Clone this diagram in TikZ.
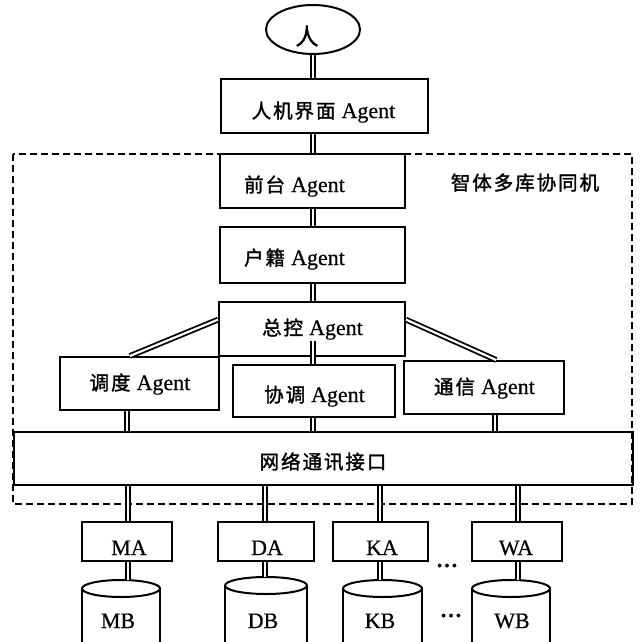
\documentclass[tikz,border=0pt]{standalone}
\usepackage{fontspec}
\setmainfont[FakeBold=0.5]{Liberation Serif}
\newfontfamily\zhfont[LetterSpace=10,FakeBold=1.6]{Noto Sans CJK SC}
\newcommand\zhtxt[1]{{\zhfont\fontsize{19.5}{22}\selectfont #1}}
\usetikzlibrary{shapes.geometric,calc,fit}

% database drum: name, centre x, centre y of the lid, x radius, y radius
\newcommand\drum[5]{%
  \draw[line width=2pt] (#2,#3) ellipse [x radius=#4, y radius=#5];
  \draw[line width=2pt] ($(#2,#3)+(-#4,0)$) -- ($(#2,#3)+(-#4,80)$);
  \draw[line width=2pt] ($(#2,#3)+(#4,0)$) -- ($(#2,#3)+(#4,80)$);
  \coordinate (#1) at ($(#2,#3)+(0,-#5)$);
}

\begin{document}
\begin{tikzpicture}[x=1pt,y=-1pt,
  box/.style={draw,line width=2pt,inner sep=0pt},
  lbl/.style={anchor=base,inner sep=0pt,font=\fontsize{22}{26}\selectfont},
  link/.style={line width=1.8pt,double=white,double distance=2.2pt}]
\useasboundingbox (0,0) rectangle (642,642);
\clip (0,0) rectangle (642,642);

% columns used by the vertical links
\coordinate (spine) at (313,0);
\coordinate (colL) at (127,0);
\coordinate (colR) at (495,0);
\coordinate (m1) at (128,0);
\coordinate (m2) at (265,0);
\coordinate (m3) at (380,0);
\coordinate (m4) at (518,0);

% frame of the multi-database machine
\draw[line width=2pt,dash pattern=on 7pt off 4pt] (13,154) rectangle (632,504);
\node[anchor=base,inner sep=0pt] (machine) at (525,190) {\zhtxt{智体多库协同机}};

% boxes
\node[draw,ellipse,line width=2pt,minimum width=94pt,minimum height=49pt,inner sep=0pt] (person) at (313,29.5) {};
\node[box,fit={(221,79) (428,133)}] (hmi) {};
\node[box,fit={(220,154) (405,208)}] (front) {};
\node[box,fit={(220,227) (405,283)}] (huji) {};
\node[box,fit={(219,302) (405,356)}] (ctrl) {};
\node[box,fit={(60,357) (219,410)}] (sched) {};
\node[box,fit={(233,365) (395,417)}] (coord) {};
\node[box,fit={(404,361) (564,414)}] (comm) {};
\node[box,fit={(14,432) (633,485)}] (net) {};
\node[box,fit={(82,522) (172,561)}] (MA) {};
\node[box,fit={(218,522) (314,561)}] (DA) {};
\node[box,fit={(333,522) (428,561)}] (KA) {};
\node[box,fit={(472,522) (562,561)}] (WA) {};

\drum{MBtop}{121}{588.5}{39}{8.5}
\drum{DBtop}{266}{585.5}{41}{8.5}
\drum{KBtop}{382.5}{588.5}{39.5}{8.5}
\drum{WBtop}{511}{588.5}{39}{8.5}

% links
\draw[link] (person.south) -- (spine |- hmi.north);
\draw[link] (spine |- hmi.south) -- (spine |- front.north);
\draw[link] (spine |- front.south) -- (spine |- huji.north);
\draw[link] (spine |- huji.south) -- (spine |- ctrl.north);
\draw[link] ($(ctrl.north west)!0.333!(ctrl.south west)$) -- ($(sched.north west)!0.44!(sched.north east)$);
\draw[link] ($(ctrl.north east)!0.333!(ctrl.south east)$) -- ($(comm.north west)!0.575!(comm.north east)$);
\draw[link] ($(spine |- ctrl.south)+(0,-16)$) -- (spine |- coord.north);
\draw[link] (colL |- sched.south) -- (colL |- net.north);
\draw[link] (spine |- coord.south) -- (spine |- net.north);
\draw[link] (colR |- comm.south) -- (colR |- net.north);
\draw[link] (m1 |- net.south) -- (m1 |- MA.north);
\draw[link] (m2 |- net.south) -- (m2 |- DA.north);
\draw[link] (m3 |- net.south) -- (m3 |- KA.north);
\draw[link] (m4 |- net.south) -- (m4 |- WA.north);
\draw[link] (m1 |- MA.south) -- (m1 |- MBtop);
\draw[link] (m2 |- DA.south) -- (m2 |- DBtop);
\draw[link] (m3 |- KA.south) -- (m3 |- KBtop);
\draw[link] (m4 |- WA.south) -- (m4 |- WBtop);

% texts
\node[inner sep=0pt] (personT) at (307,36) {{\zhfont\fontsize{23}{24}\selectfont 人}};
\node[lbl] (hmiT) at (323.5,118) {\zhtxt{人机界面}\hspace{6pt}Agent};
\node[lbl] (frontT) at (294.5,192) {\zhtxt{前台}\hspace{6pt}Agent};
\node[lbl] (hujiT) at (294.5,265) {\zhtxt{户籍}\hspace{6pt}Agent};
\node[lbl] (ctrlT) at (312.5,335) {\zhtxt{总控}\hspace{6pt}Agent};
\node[lbl] (schedT) at (140,390) {\zhtxt{调度}\hspace{6pt}Agent};
\node[lbl] (coordT) at (314.5,402) {\zhtxt{协调}\hspace{6pt}Agent};
\node[lbl] (commT) at (484.5,394) {\zhtxt{通信}\hspace{6pt}Agent};
\node[anchor=base,inner sep=0pt] (netT) at (323,469) {\zhtxt{网络通讯接口}};
\node[lbl] (MAT) at (129,555) {MA};
\node[lbl] (DAT) at (267,555) {DA};
\node[lbl] (KAT) at (382,555) {KA};
\node[lbl] (WAT) at (516,555) {WA};
\node[lbl] (MBT) at (118,628) {MB};
\node[lbl] (DBT) at (263,628) {DB};
\node[lbl] (KBT) at (380,628) {KB};
\node[lbl] (WBT) at (512,628) {WB};
\node[lbl] (dotsA) at (447,567) {\textbf{\ldots}};
\node[lbl] (dotsB) at (451,617) {\textbf{\ldots}};
\end{tikzpicture}
\end{document}
